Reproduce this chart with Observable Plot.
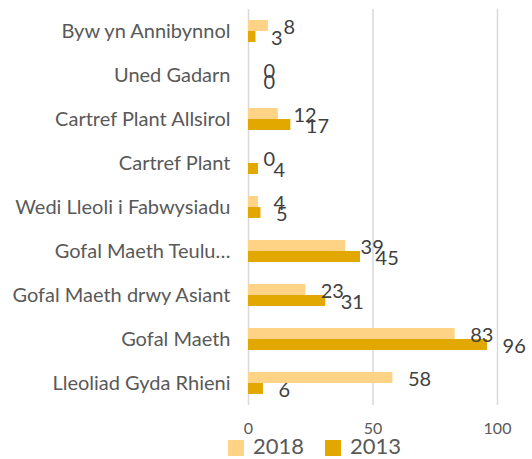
<!DOCTYPE html>
<html>
<head>
<meta charset="utf-8">
<script src="https://cdn.jsdelivr.net/npm/d3@7"></script>
<script src="https://cdn.jsdelivr.net/npm/@observablehq/plot@0.6"></script>
<style>
  body { margin: 0; background: #fff; font-family: Lato, sans-serif; }
  #legend { display: flex; align-items: center; height: 20px; margin-top: -3px; margin-left: 228px; color: #595959; font-size: 22px; line-height: 20px; }
  .sw { width: 16px; height: 16px; display: inline-block; margin-right: 9px; margin-top: 4px; }
  .item { display: flex; align-items: center; margin-right: 21px; }
</style>
</head>
<body>
<div id="chart"></div>
<div id="legend"></div>
<script>
const categories = [
  "Byw yn Annibynnol",
  "Uned Gadarn",
  "Cartref Plant Allsirol",
  "Cartref Plant",
  "Wedi Lleoli i Fabwysiadu",
  "Gofal Maeth Teulu…",
  "Gofal Maeth drwy Asiant",
  "Gofal Maeth",
  "Lleoliad Gyda Rhieni"
];
const years = ["2018", "2013"];
const v2018 = [8, 0, 12, 0, 4, 39, 23, 83, 58];
const v2013 = [3, 0, 17, 4, 5, 45, 31, 96, 6];
const xTicks = [0, 50, 100];
const colors = ["#FFD386", "#E3A800"];

const data = categories.flatMap((c, i) => [
  {cat: c, year: "2018", value: v2018[i]},
  {cat: c, year: "2013", value: v2013[i]}
]);

const chart = Plot.plot({
  width: 532,
  height: 439,
  marginLeft: 248,
  marginRight: 35,
  marginTop: 9,
  marginBottom: 34,
  x: {domain: [0, 100]},
  y: {domain: years, paddingInner: 0, paddingOuter: 0.9, axis: null},
  fy: {domain: categories, padding: 0, label: null, axis: null},
  color: {domain: years, range: colors},
  style: {fontFamily: "Lato, sans-serif", color: "#595959", background: "#fff", overflow: "visible"},
  marks: [
    Plot.ruleX(xTicks, {stroke: "#d9d9d9", strokeWidth: 1.5}),
    Plot.barX(data, {fy: "cat", y: "year", x: "value", fill: "year"}),
    Plot.text(data, {fy: "cat", y: "year", x: "value", text: d => String(d.value), dx: 15, dy: 2, textAnchor: "start", fontSize: 20, fill: "#404040"}),
    Plot.axisX({ticks: xTicks, tickSize: 0, tickPadding: 17, fontSize: 16, label: null, fill: "#595959"}),
    Plot.axisFy({anchor: "left", tickSize: 0, tickPadding: 18, fontSize: 20, label: null, fill: "#595959"})
  ]
});
document.getElementById("chart").appendChild(chart);

const legend = document.getElementById("legend");
years.forEach((y, i) => {
  const item = document.createElement("span");
  item.className = "item";
  const sw = document.createElement("span");
  sw.className = "sw";
  sw.style.background = colors[i];
  item.appendChild(sw);
  item.appendChild(document.createTextNode(y));
  legend.appendChild(item);
});
</script>
</body>
</html>
